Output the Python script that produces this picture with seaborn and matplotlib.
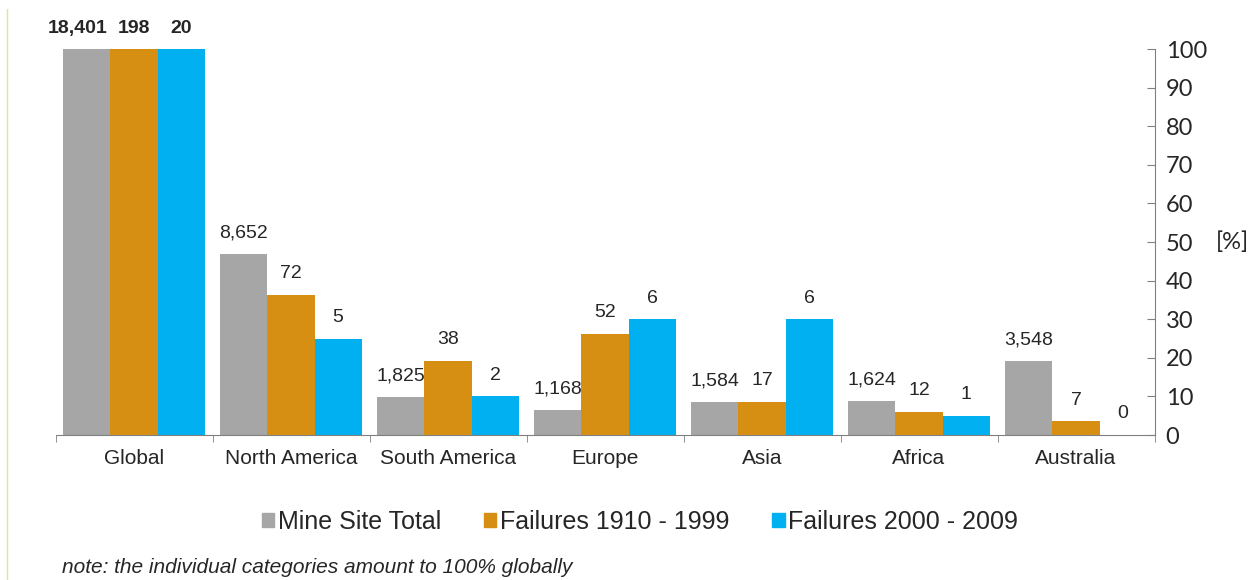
import pandas as pd
import matplotlib.pyplot as plt
import seaborn as sns
from matplotlib.lines import Line2D

# data: number of mine sites / failures per region
regions = ["Global", "North America", "South America", "Europe", "Asia", "Africa", "Australia"]
mine_sites = [18401, 8652, 1825, 1168, 1584, 1624, 3548]
failures_1910_1999 = [198, 72, 38, 52, 17, 12, 7]
failures_2000_2009 = [20, 5, 2, 6, 6, 1, 0]
series_names = ["Mine Site Total", "Failures 1910 - 1999", "Failures 2000 - 2009"]
colors = ["#A6A6A6", "#D68F13", "#00B0F0"]

rows = []
for name, counts in zip(series_names, [mine_sites, failures_1910_1999, failures_2000_2009]):
    total = counts[0]
    for reg, c in zip(regions, counts):
        rows.append({"region": reg, "series": name, "count": c, "pct": c / total * 100})
df = pd.DataFrame(rows)

sns.set_style("white")
plt.rcParams["font.family"] = ["Liberation Sans", "DejaVu Sans"]

fig = plt.figure(figsize=(12.5, 5.8), dpi=100)
ax = fig.add_axes([0.0444, 0.25, 0.8792, 0.6655])

sns.barplot(data=df, x="region", y="pct", hue="series", palette=colors,
            width=0.9, saturation=1, order=regions, hue_order=series_names,
            errorbar=None, ax=ax, linewidth=0)

# value labels (counts) above bars
for i, (container, name) in enumerate(zip(ax.containers, series_names)):
    sub = df[df["series"] == name].set_index("region").loc[regions]
    for bar, (reg, r) in zip(container, sub.iterrows()):
        bold = reg == "Global"
        dx = -7 if (bold and i == 0) else 0  # nudge the wide global label left, like the original
        ax.annotate(f"{r['count']:,}", (bar.get_x() + bar.get_width() / 2, bar.get_height()),
                    xytext=(dx, 9), textcoords="offset points", ha="center", va="bottom",
                    fontsize=14, fontweight="bold" if bold else "normal",
                    annotation_clip=False)

ax.set_ylim(0, 100)
ax.set_xlim(-0.5, len(regions) - 0.5)
ax.yaxis.tick_right()
ax.set_yticks(range(0, 101, 10))
ax.set_yticklabels([str(v) for v in range(0, 101, 10)], fontsize=17, family="Lato")
ax.tick_params(axis="y", direction="in", length=6, color="#808080", pad=8, right=True, left=False)
ax.set_ylabel("")
ax.set_xlabel("")
ax.text(1.056, 0.5, "[%]", transform=ax.transAxes, fontsize=17, family="Lato",
        va="center", ha="left")

ax.set_xticks(range(len(regions)))
ax.set_xticklabels(regions, fontsize=15)
ax.set_xticks([i - 0.5 for i in range(len(regions) + 1)], minor=True)
ax.tick_params(axis="x", which="major", length=0, pad=10)
ax.tick_params(axis="x", which="minor", length=5, color="#808080", bottom=True)

for s in ["top", "left"]:
    ax.spines[s].set_visible(False)
for s in ["bottom", "right"]:
    ax.spines[s].set_color("#808080")

ax.legend_.remove()
handles = [plt.Rectangle((0, 0), 1, 1, color=c) for c in colors]
fig.legend(handles, series_names, loc="center", bbox_to_anchor=(0.512, 0.1), ncol=3,
           frameon=False, fontsize=18, handlelength=0.5, handleheight=0.5,
           handletextpad=0.15, columnspacing=1.7)

fig.text(0.05, 0.022, "note: the individual categories amount to 100% globally",
         fontsize=15, style="italic", va="center")

fig.add_artist(Line2D([0.0056, 0.0056], [0, 0.985], color="#D7EB8C", lw=1))

fig.savefig("out.png", dpi=100)
